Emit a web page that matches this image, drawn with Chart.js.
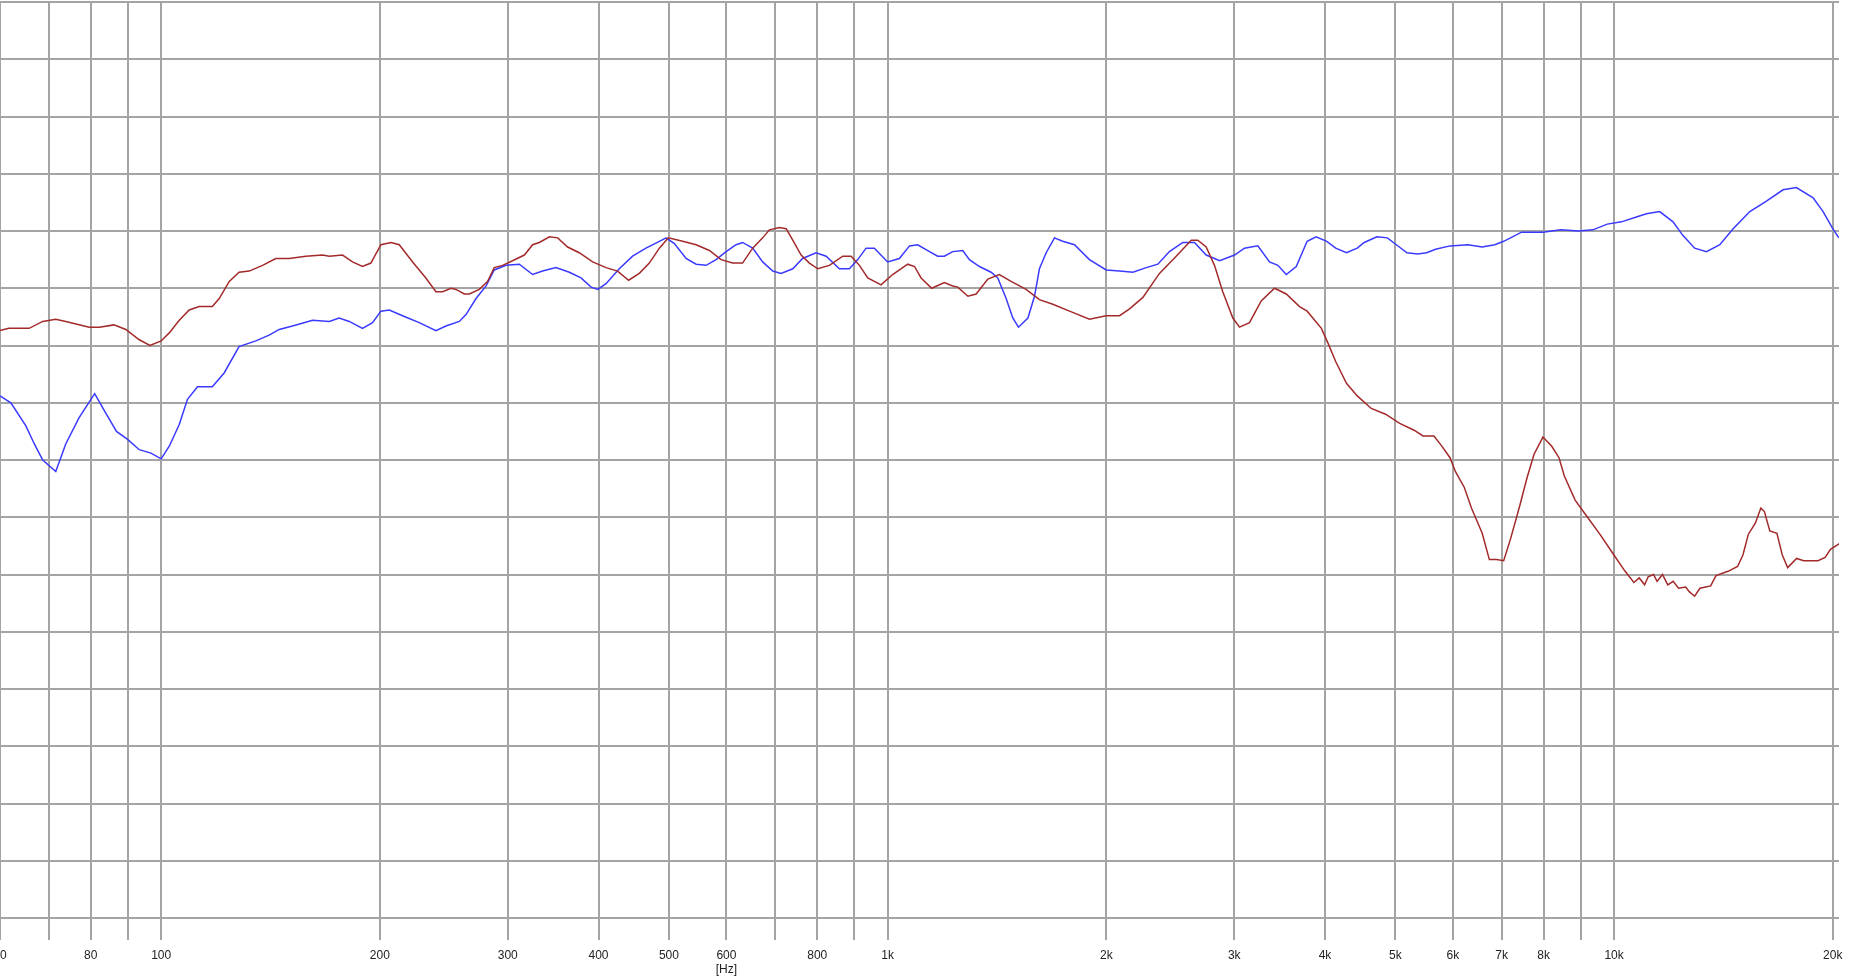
<!DOCTYPE html>
<html>
<head>
<meta charset="utf-8">
<script src="https://cdn.jsdelivr.net/npm/chart.js@4"></script>
<style>
    html, body { margin: 0; padding: 0; background: #fff; }
    #wrap { width: 1860px; height: 976px; }
</style>
</head>
<body>
<div id="wrap"><canvas id="fr" width="1860" height="976"></canvas></div>
<script>
// frequency response, two measurements (Hz / dB)
const redHz = [60, 61.7, 65.8, 68.7, 71.6, 73.9, 79.6, 82.2, 86.1, 89.4, 93.3, 96.5, 100, 102.6, 105.9, 109.3, 112.8, 117.6, 120.2, 124.1,
    128, 132.2, 137.9, 143.8, 150.1, 158.2, 166.8, 170.4, 177.7, 183.4, 189.3, 194.4, 200.7, 207.2, 212.7, 221.9, 231.4, 238.9, 244, 250.6,
    254.6, 261.4, 265.6, 274.1, 281.5, 287.4, 295.1, 304.6, 316.2, 324.6, 331.6, 342.3, 351.4, 362.7, 376.3, 392.6, 409.6, 424.9, 440, 455.2,
    469.9, 485.1, 499.1, 522.3, 545, 568.5, 589.8, 611.8, 631.5, 652, 673, 687.5, 709.6, 725, 740.3, 760.2, 780.5, 801.3, 831.5, 867.5,
    890.8, 914.5, 939, 979.5, 1016, 1066, 1089, 1112, 1150, 1197, 1229, 1249, 1290, 1324, 1374, 1425, 1479, 1551, 1618, 1688,
    1780, 1896, 1999, 2086, 2153, 2246, 2367, 2496, 2618, 2673, 2745, 2818, 2893, 2987, 3051, 3149, 3268, 3409, 3538, 3690,
    3780, 3955, 4045, 4138, 4282, 4431, 4632, 4846, 5069, 5305, 5457, 5650, 5779, 5945, 6047, 6221, 6363, 6584, 6735, 6890,
    7048, 7209, 7416, 7586, 7760, 7981, 8208, 8398, 8542, 8839, 9145, 9564, 9947, 10351, 10648, 10830, 11016, 11141, 11331, 11461,
    11657, 11857, 12060, 12267, 12548, 12690, 12907, 13129, 13582, 13815, 14378, 14791, 15045, 15303, 15653, 15924, 16105, 16382, 16756, 17044,
    17337, 17835, 18242, 19087, 19522, 19857, 20428];
const redDb = [71.3, 71.5, 71.5, 72.1, 72.3, 72.1, 71.6, 71.6, 71.8, 71.4, 70.5, 70.0, 70.4, 71.1, 72.2, 73.1, 73.4, 73.4, 74.1, 75.6,
    76.4, 76.5, 77.0, 77.6, 77.6, 77.8, 77.9, 77.8, 77.9, 77.3, 76.9, 77.2, 78.8, 79.0, 78.8, 77.3, 75.9, 74.7, 74.7, 75.0,
    74.9, 74.5, 74.5, 74.9, 75.6, 76.8, 77.0, 77.4, 77.9, 78.8, 79.0, 79.5, 79.4, 78.6, 78.1, 77.3, 76.8, 76.5, 75.7, 76.3,
    77.2, 78.5, 79.4, 79.1, 78.8, 78.3, 77.5, 77.2, 77.2, 78.5, 79.4, 80.1, 80.3, 80.2, 79.2, 77.9, 77.2, 76.7, 77.0, 77.8,
    77.8, 77.0, 75.9, 75.3, 76.2, 77.1, 76.9, 75.9, 75.0, 75.5, 75.2, 75.1, 74.3, 74.5, 75.8, 76.2, 75.6, 74.9, 74.0, 73.6,
    73.0, 72.3, 72.6, 72.6, 73.2, 74.2, 76.3, 77.8, 79.2, 79.2, 78.6, 77.0, 74.7, 72.4, 71.6, 72.0, 73.9, 75.0, 74.5, 73.4,
    73.0, 71.5, 70.1, 68.6, 66.7, 65.6, 64.5, 64.0, 63.2, 62.6, 62.1, 62.1, 61.3, 60.2, 59.0, 57.6, 55.8, 53.6, 51.3, 51.3,
    51.2, 53.2, 56.0, 58.4, 60.5, 62.0, 61.2, 60.2, 58.6, 56.5, 55.2, 53.5, 51.9, 50.3, 49.3, 49.7, 49.1, 49.8, 50.0, 49.4,
    50.0, 49.1, 49.4, 48.8, 48.9, 48.5, 48.1, 48.8, 49.0, 49.9, 50.3, 50.7, 51.7, 53.5, 54.5, 55.8, 55.5, 53.8, 53.6, 51.7,
    50.6, 51.4, 51.2, 51.2, 51.5, 52.2, 52.7];

const blueHz = [60, 62.1, 65.1, 66.9, 68.7, 71.6, 73.9, 77.1, 81, 83.9, 86.8, 89.9, 93.3, 96.8, 100, 102.6, 105.9, 108.7, 112.2, 117.6,
    122.1, 128, 135, 140.8, 145.4, 151.6, 161.6, 170.4, 175.8, 181.5, 189.3, 195.4, 200.7, 206.1, 214.9, 226.6, 238.9, 246.6, 257.3, 262.8,
    271.3, 280.1, 287.4, 298.4, 311.2, 324.6, 335, 349.5, 364.6, 378.4, 390.7, 399, 409.6, 427.2, 445.6, 464.9, 485.1, 495.5, 508.7, 527.9,
    545, 562.6, 580.6, 599.3, 618.6, 631.5, 652, 673, 694.8, 713.4, 740.3, 763.8, 797, 823, 858.2, 886, 909.6, 934, 959, 1000,
    1038, 1072, 1100, 1142, 1172, 1197, 1229, 1269, 1296, 1338, 1388, 1418, 1456, 1487, 1514, 1560, 1593, 1618, 1653, 1697,
    1742, 1808, 1896, 1999, 2086, 2176, 2270, 2355, 2443, 2549, 2645, 2745, 2864, 3003, 3099, 3233, 3355, 3445, 3538, 3652,
    3780, 3889, 4023, 4138, 4282, 4431, 4530, 4715, 4875, 5015, 5187, 5366, 5521, 5679, 5945, 6291, 6584, 6851, 7048, 7459,
    7981, 8446, 8936, 9350, 9788, 10237, 10707, 11080, 11556, 12055, 12441, 12912, 13404, 13983, 14585, 15378, 16208, 17085, 17824, 18793,
    19397, 20000, 20390];
const blueDb = [65.6, 65.0, 63.0, 61.4, 60.0, 59.0, 61.4, 63.7, 65.8, 64.1, 62.5, 61.8, 60.9, 60.6, 60.1, 61.2, 63.1, 65.3, 66.4, 66.4,
    67.6, 69.9, 70.4, 70.9, 71.4, 71.7, 72.2, 72.1, 72.4, 72.1, 71.5, 72.0, 73.0, 73.1, 72.6, 72.0, 71.3, 71.7, 72.1, 72.7,
    74.1, 75.2, 76.6, 77.0, 77.1, 76.2, 76.5, 76.8, 76.4, 75.9, 75.1, 74.9, 75.4, 76.7, 77.8, 78.5, 79.1, 79.4, 78.9, 77.6,
    77.1, 77.0, 77.5, 78.2, 78.8, 79.0, 78.5, 77.3, 76.5, 76.3, 76.7, 77.6, 78.1, 77.8, 76.7, 76.7, 77.5, 78.5, 78.5, 77.3,
    77.6, 78.7, 78.8, 78.2, 77.8, 77.8, 78.2, 78.3, 77.5, 76.9, 76.4, 75.9, 74.1, 72.4, 71.6, 72.4, 74.3, 76.7, 78.1, 79.4,
    79.1, 78.8, 77.5, 76.6, 76.5, 76.4, 76.8, 77.1, 78.2, 79.0, 79.0, 77.9, 77.4, 77.9, 78.5, 78.7, 77.3, 77.0, 76.2, 76.9,
    79.1, 79.5, 79.1, 78.5, 78.1, 78.5, 79.0, 79.5, 79.4, 78.8, 78.1, 78.0, 78.1, 78.4, 78.7, 78.8, 78.6, 78.8, 79.1, 79.9,
    79.9, 80.1, 80.0, 80.1, 80.6, 80.8, 81.2, 81.5, 81.7, 80.8, 79.6, 78.5, 78.2, 78.8, 80.2, 81.7, 82.6, 83.6, 83.8, 82.9,
    81.7, 80.2, 79.4];

// x axis grid positions and their labels ('' = line only)
const tickHz = [60, 70, 80, 90, 100, 200, 300, 400, 500, 600, 700, 800, 900,
    1000, 2000, 3000, 4000, 5000, 6000, 7000, 8000, 9000, 10000, 20000];
const tickText = ['60', '', '80', '', '100', '200', '300', '400', '500', '600', '', '800', '',
    '1k', '2k', '3k', '4k', '5k', '6k', '7k', '8k', '', '10k', '20k'];
const unitLabel = '[Hz]';
const unitAt = 600;

const gridColor = '#a4a4a4';

function toPoints(hz, db) {
    return hz.map((f, i) => ({x: f, y: db[i]}));
}

const ctx = document.getElementById('fr').getContext('2d');
new Chart(ctx, {
    type: 'line',
    data: {
        datasets: [
            {
                label: 'red',
                data: toPoints(redHz, redDb),
                borderColor: '#a32a2a',
                borderWidth: 1.5,
                pointRadius: 0,
                tension: 0,
                fill: false
            },
            {
                label: 'blue',
                data: toPoints(blueHz, blueDb),
                borderColor: '#3a3aff',
                borderWidth: 1.5,
                pointRadius: 0,
                tension: 0,
                fill: false
            }
        ]
    },
    options: {
        responsive: false,
        animation: false,
        events: [],
        layout: {padding: {top: 2, right: 21, left: 0, bottom: 0}},
        plugins: {
            legend: {display: false},
            tooltip: {enabled: false}
        },
        scales: {
            x: {
                type: 'logarithmic',
                min: 60,
                max: 20400,
                border: {display: false},
                grid: {
                    color: gridColor,
                    lineWidth: 2,
                    drawTicks: true,
                    tickLength: 22,
                    tickColor: gridColor
                },
                ticks: {
                    autoSkip: false,
                    maxRotation: 0,
                    padding: 8,
                    color: '#222',
                    font: {family: 'Liberation Sans', size: 12},
                    callback: function (value) {
                        const i = tickHz.indexOf(value);
                        if (i < 0) return '';
                        if (value === unitAt) return [tickText[i], unitLabel];
                        return tickText[i];
                    }
                },
                afterBuildTicks: function (scale) {
                    scale.ticks = tickHz.map(v => ({value: v}));
                },
                afterFit: function (scale) {
                    scale.height = 58;
                    scale.paddingLeft = 0;
                    scale.paddingRight = 0;
                }
            },
            y: {
                min: 20,
                max: 100,
                border: {display: false},
                grid: {
                    color: gridColor,
                    lineWidth: 2,
                    drawTicks: false
                },
                ticks: {
                    display: false,
                    stepSize: 5
                }
            }
        }
    }
});
</script>
</body>
</html>
